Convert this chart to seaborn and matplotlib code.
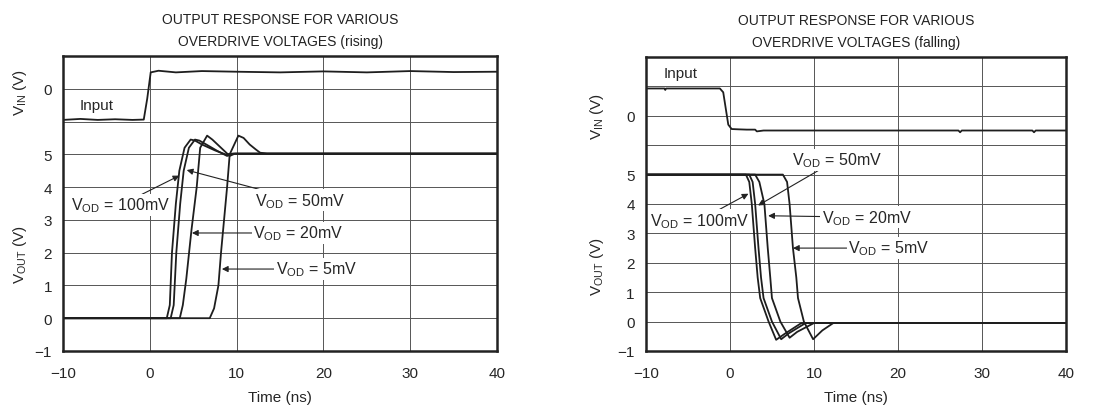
import matplotlib
matplotlib.use("Agg")
import matplotlib.pyplot as plt
import pandas as pd
import seaborn as sns

# ---- data ----
# rising panel: V_IN drawn around an offset of 7 on the shared axis
rise_in_t = [-10, -8, -6, -4, -2, -0.7, -0.3, 0.1, 1, 3, 6, 10, 15, 20, 25, 30, 35, 40]
rise_in_v = [-0.95, -0.92, -0.95, -0.93, -0.95, -0.94, -0.3, 0.5, 0.55, 0.5, 0.54, 0.52, 0.5, 0.53, 0.5, 0.54, 0.51, 0.52]

rise_t = {
    "100mV": [-10, 1.95, 2.3, 2.55, 3.0, 3.4, 4.0, 4.7, 5.2, 6.0, 7.5, 8.7, 9.5, 40],
    "50mV": [-10, 2.4, 2.75, 3.05, 3.5, 3.9, 4.5, 5.2, 5.7, 6.5, 7.8, 8.9, 9.6, 40],
    "20mV": [-10, 3.45, 3.8, 4.2, 4.8, 5.4, 5.8, 6.6, 7.2, 7.8, 8.6, 9.2, 9.8, 40],
    "5mV": [-10, 6.9, 7.4, 7.9, 8.2, 8.9, 9.2, 10.2, 10.8, 11.5, 12.2, 12.7, 13.5, 40],
}
rise_v = {
    "100mV": [0, 0, 0.4, 2.0, 3.5, 4.5, 5.2, 5.45, 5.42, 5.3, 5.12, 5.0, 5.02, 5.02],
    "50mV": [0, 0, 0.4, 2.0, 3.5, 4.5, 5.2, 5.45, 5.42, 5.3, 5.1, 4.95, 5.02, 5.02],
    "20mV": [0, 0, 0.4, 1.2, 2.7, 4.0, 5.2, 5.57, 5.45, 5.3, 5.1, 4.95, 5.02, 5.02],
    "5mV": [0, 0, 0.3, 1.0, 2.0, 4.0, 5.0, 5.57, 5.5, 5.3, 5.15, 5.05, 5.02, 5.02],
}

# falling panel
fall_in_t = [-10, -7.8, -7.7, -7.6, -1.2, -0.8, -0.2, 0.2, 1.0, 2.0, 3.0, 3.2, 4.0, 27.2, 27.4, 27.6, 36.0, 36.2, 36.4, 40]
fall_in_v = [0.93, 0.93, 0.88, 0.93, 0.93, 0.8, -0.3, -0.45, -0.46, -0.47, -0.47, -0.53, -0.5, -0.5, -0.56, -0.5, -0.5, -0.56, -0.5, -0.5]

fall_t = {
    "100mV": [-10, 1.9, 2.3, 2.6, 3.0, 3.3, 3.6, 4.6, 5.5, 6.5, 8.5, 40],
    "50mV": [-10, 2.3, 2.7, 3.0, 3.4, 3.7, 4.0, 5.0, 6.1, 7.0, 9.0, 40],
    "20mV": [-10, 3.0, 3.5, 4.1, 4.5, 4.8, 5.0, 6.0, 7.1, 8.0, 10.0, 40],
    "5mV": [-10, 6.3, 6.8, 7.1, 7.5, 7.9, 8.1, 8.8, 9.9, 11.0, 12.3, 40],
}
fall_v = {
    "100mV": [5.0, 5.0, 4.75, 4.0, 2.5, 1.5, 0.8, 0.0, -0.62, -0.42, -0.05, -0.05],
    "50mV": [5.0, 5.0, 4.75, 4.0, 2.5, 1.5, 0.8, 0.0, -0.6, -0.4, -0.05, -0.05],
    "20mV": [5.0, 5.0, 4.75, 4.0, 2.5, 1.5, 0.8, 0.0, -0.55, -0.35, -0.05, -0.05],
    "5mV": [5.0, 5.0, 4.75, 4.0, 2.5, 1.5, 0.8, 0.0, -0.6, -0.3, -0.05, -0.05],
}

x_ticks = [-10, 0, 10, 20, 30, 40]

sns.set_style("white")
plt.rcParams["font.family"] = ["Liberation Sans", "DejaVu Sans"]
plt.rcParams["mathtext.default"] = "regular"

fig = plt.figure(figsize=(10.98, 4.10), dpi=100)
ax1 = fig.add_axes([0.0574, 0.1415, 0.3953, 0.7195])
ax2 = fig.add_axes([0.5883, 0.1415, 0.3825, 0.7170])

line_kw = dict(color="#1e1e1e", linewidth=1.3, estimator=None, sort=False, legend=False)


def draw_curves(ax, in_t, in_v, ts, vs, vin_offset):
    df = pd.DataFrame({"t": in_t, "v": [v + vin_offset for v in in_v]})
    sns.lineplot(data=df, x="t", y="v", ax=ax, **line_kw)
    for key in ts:
        df = pd.DataFrame({"t": ts[key], "v": vs[key]})
        sns.lineplot(data=df, x="t", y="v", ax=ax, **line_kw)


def style_axes(ax, ymax, lab_x, in_label_y, out_label_y):
    ax.set_xlim(-10, 40)
    ax.set_ylim(-1, ymax)
    ax.set_xticks(x_ticks)
    ax.set_xticklabels(["\u221210", "0", "10", "20", "30", "40"], fontsize=11)
    yt = list(range(-1, ymax + 1))
    labels = ["\u22121", "0", "1", "2", "3", "4", "5"] + [""] * (ymax - 5)
    labels[8] = "0"  # V_IN zero sits at 7
    ax.set_yticks(yt)
    ax.set_yticklabels(labels, fontsize=11)
    ax.tick_params(axis="x", length=0, pad=11)
    ax.tick_params(axis="y", length=0, pad=8)
    ax.grid(True, color="#555555", linewidth=0.7)
    for s in ax.spines.values():
        s.set_linewidth(1.8)
        s.set_color("#222222")
    ax.set_xlabel("Time (ns)", fontsize=11, labelpad=7)
    ax.set_ylabel("")
    ax.text(lab_x, in_label_y, "V$_{IN}$ (V)", transform=ax.transAxes, rotation=90,
            ha="center", va="center", fontsize=11)
    ax.text(lab_x, out_label_y, "V$_{OUT}$ (V)", transform=ax.transAxes, rotation=90,
            ha="center", va="center", fontsize=11)


def note(ax, text, xy, xytext, ha="center"):
    ax.annotate(text, xy=xy, xytext=xytext, fontsize=11.5, ha=ha, va="center",
                bbox=dict(facecolor="white", edgecolor="none", pad=1),
                arrowprops=dict(arrowstyle="-|>", color="#222222", lw=0.8,
                                mutation_scale=9, shrinkA=0, shrinkB=0))


title_kw = dict(fontsize=10, pad=8, linespacing=1.75, color="#222222")

# ---- rising ----
draw_curves(ax1, rise_in_t, rise_in_v, rise_t, rise_v, 7)
style_axes(ax1, 8, -0.099, 0.878, 0.33)
ax1.set_title("OUTPUT RESPONSE FOR VARIOUS\nOVERDRIVE VOLTAGES (rising)", **title_kw)
ax1.text(-6.1, 6.5, "Input", fontsize=11, ha="center", va="center")
note(ax1, "V$_{OD}$ = 100mV", (3.4, 4.35), (-3.4, 3.45))
note(ax1, "V$_{OD}$ = 50mV", (4.25, 4.52), (17.3, 3.6))
note(ax1, "V$_{OD}$ = 20mV", (4.85, 2.6), (17.1, 2.6))
note(ax1, "V$_{OD}$ = 5mV", (8.3, 1.5), (19.2, 1.5))

# ---- falling ----
draw_curves(ax2, fall_in_t, fall_in_v, fall_t, fall_v, 7)
style_axes(ax2, 9, -0.117, 0.80, 0.29)
ax2.set_title("OUTPUT RESPONSE FOR VARIOUS\nOVERDRIVE VOLTAGES (falling)", **title_kw)
ax2.text(-5.9, 8.45, "Input", fontsize=11, ha="center", va="center")
note(ax2, "V$_{OD}$ = 50mV", (3.35, 3.95), (12.7, 5.5))
note(ax2, "V$_{OD}$ = 100mV", (2.2, 4.35), (-3.6, 3.45))
note(ax2, "V$_{OD}$ = 20mV", (4.55, 3.6), (16.3, 3.55))
note(ax2, "V$_{OD}$ = 5mV", (7.5, 2.5), (18.9, 2.5))

fig.savefig("out.png", dpi=100)
